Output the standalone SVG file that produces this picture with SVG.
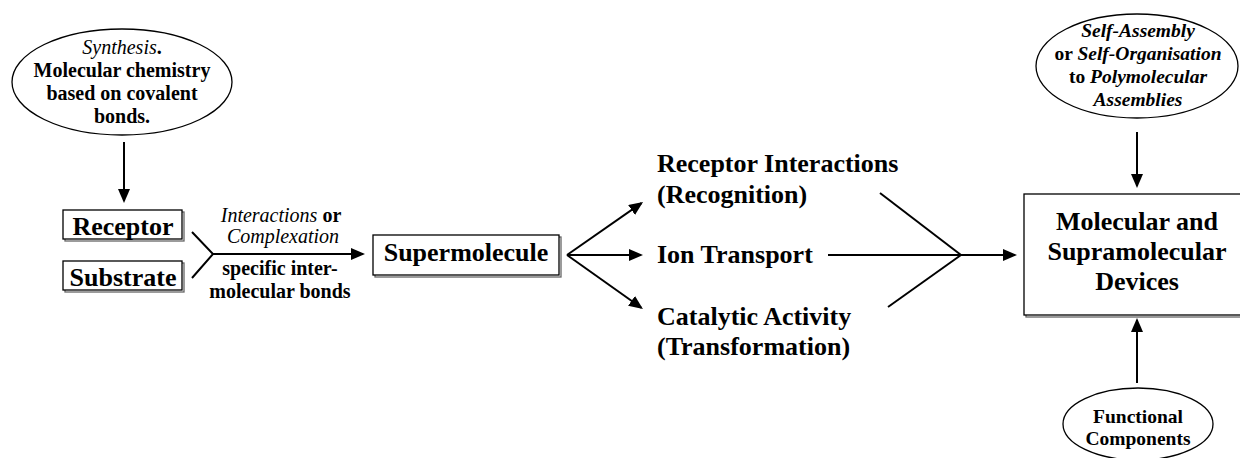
<svg xmlns="http://www.w3.org/2000/svg" width="1240" height="458" viewBox="0 0 1240 458">
<style>
text{font-family:"Liberation Serif","Times New Roman",serif;font-weight:bold;fill:#000}
.big{font-size:26px}
.sm{font-size:20px}
.mid{text-anchor:middle}
.it{font-style:italic}
.itn{font-style:italic;font-weight:normal}
.shape{fill:#fff;stroke:#000;stroke-width:1.3}
.shadow{fill:none;stroke:#666;stroke-width:1.3}
.ln{fill:none;stroke:#000;stroke-width:2}
</style>
<defs>
<marker id="ah" viewBox="0 0 14 12" refX="12" refY="6" markerWidth="14" markerHeight="12" markerUnits="userSpaceOnUse" orient="auto">
<path d="M0,0 L14,6 L0,12 z" fill="#000"/>
</marker>
</defs>
<rect width="1240" height="458" fill="#fff"/>

<g id="synthesis">
<ellipse class="shape" cx="122" cy="82" rx="110" ry="53"/>
<text class="sm mid" x="122" y="54"><tspan class="itn">Synthesis</tspan>.</text>
<text class="sm mid" x="122" y="77">Molecular chemistry</text>
<text class="sm mid" x="122" y="100">based on covalent</text>
<text class="sm mid" x="122" y="123">bonds.</text>
</g>

<g id="receptor">
<rect class="shadow" x="65" y="212" width="119" height="29"/>
<rect class="shape" x="63" y="210" width="119" height="29"/>
<text class="big mid" x="123" y="235">Receptor</text>
</g>

<g id="substrate">
<rect class="shadow" x="65" y="263" width="119" height="29"/>
<rect class="shape" x="63" y="261" width="119" height="29"/>
<text class="big mid" x="123" y="286">Substrate</text>
</g>

<g id="complexation-label">
<text class="sm mid" x="281" y="222"><tspan class="itn">Interactions</tspan> or</text>
<text class="sm mid itn" x="283" y="243">Complexation</text>
<text class="sm mid" x="280" y="275">specific inter-</text>
<text class="sm mid" x="280" y="298">molecular bonds</text>
</g>

<g id="supermolecule">
<rect class="shadow" x="375" y="237" width="186" height="40"/>
<rect class="shape" x="373" y="235" width="186" height="40"/>
<text class="big mid" x="466" y="261">Supermolecule</text>
</g>

<g id="recognition">
<text class="big" x="657" y="172">Receptor Interactions</text>
<text class="big" x="657" y="203">(Recognition)</text>
</g>

<g id="transport">
<text class="big" x="657" y="263">Ion Transport</text>
</g>

<g id="catalysis">
<text class="big" x="657" y="325">Catalytic Activity</text>
<text class="big" x="657" y="355">(Transformation)</text>
</g>

<g id="devices">
<rect class="shadow" x="1026" y="196" width="226" height="121"/>
<rect class="shape" x="1024" y="194" width="226" height="121"/>
<text class="big mid" x="1137" y="230">Molecular and</text>
<text class="big mid" x="1137" y="260">Supramolecular</text>
<text class="big mid" x="1137" y="290">Devices</text>
</g>

<g id="self-assembly">
<ellipse class="shape" cx="1137" cy="66" rx="101" ry="52"/>
<text class="sm mid it" x="1138" y="37" style="font-size:19.5px">Self-Assembly</text>
<text class="sm mid" x="1138" y="60" style="font-size:19.5px">or <tspan class="it">Self-Organisation</tspan></text>
<text class="sm mid" x="1138" y="83" style="font-size:19.5px">to <tspan class="it">Polymolecular</tspan></text>
<text class="sm mid it" x="1138" y="106" style="font-size:19.5px">Assemblies</text>
</g>

<g id="functional">
<ellipse class="shape" cx="1138" cy="424" rx="75" ry="36"/>
<text class="sm mid" x="1138" y="423" style="font-size:19.5px">Functional</text>
<text class="sm mid" x="1138" y="445" style="font-size:19.5px">Components</text>
</g>

<g id="connectors">
<line class="ln" x1="124" y1="142" x2="124" y2="201" marker-end="url(#ah)"/>
<polyline class="ln" points="192,232 213,254 192,278"/>
<line class="ln" x1="213" y1="254" x2="363" y2="254" marker-end="url(#ah)"/>
<line class="ln" x1="567" y1="255" x2="641.4" y2="203.1" marker-end="url(#ah)"/>
<line class="ln" x1="567" y1="255" x2="641" y2="255" marker-end="url(#ah)"/>
<line class="ln" x1="567" y1="255" x2="641.3" y2="307.8" marker-end="url(#ah)"/>
<line class="ln" x1="880" y1="193" x2="961" y2="255"/>
<line class="ln" x1="888" y1="307" x2="961" y2="255"/>
<line class="ln" x1="828" y1="255" x2="1015" y2="255" marker-end="url(#ah)"/>
<line class="ln" x1="1137" y1="132" x2="1137" y2="186" marker-end="url(#ah)"/>
<line class="ln" x1="1137" y1="383" x2="1137" y2="320" marker-end="url(#ah)"/>
</g>
</svg>
